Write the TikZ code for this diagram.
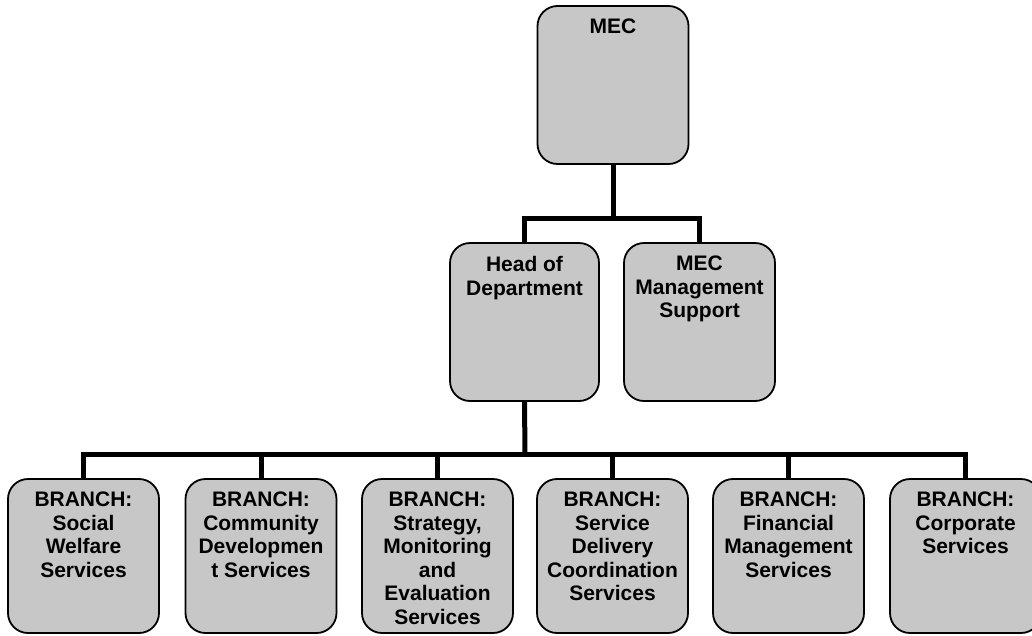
\documentclass[tikz,border=0pt]{standalone}
\usepackage{fontspec}
\setmainfont{Liberation Sans}
\begin{document}
\begin{tikzpicture}[x=1pt,y=-1pt,
  box/.style={draw=black, line width=1.8pt, rounded corners=20pt, fill=black!22,
    minimum width=151pt, minimum height=154pt, inner sep=0pt},
  tall/.style={minimum height=158pt},
  lbl/.style={anchor=north, inner sep=0pt, align=center,
    font=\bfseries\fontsize{21}{23.5}\selectfont},
  conn/.style={line width=5pt}]
\useasboundingbox (0,0) rectangle (1032,635);
% boxes
\node[box,tall] (mec) at (613,85) {};
\node[box,tall,minimum width=149pt] (hod) at (524.5,322) {};
\node[box,tall] (mms) at (699.5,322) {};
\node[box] (b1) at (83.5,556) {};
\node[box] (b2) at (261,556) {};
\node[box] (b3) at (437.5,556) {};
\node[box] (b4) at (612.5,556) {};
\node[box] (b5) at (788.5,556) {};
\node[box] (b6) at (965.5,556) {};
% labels
\node[lbl] (tmec) at ([yshift=-14pt]mec.north) {MEC};
\node[lbl] (thod) at ([yshift=-14pt]hod.north) {Head of\\Department};
\node[lbl] (tmms) at ([yshift=-14pt]mms.north) {MEC\\Management\\Support};
\node[lbl] (t1) at ([yshift=-14pt]b1.north) {BRANCH:\\Social\\Welfare\\Services};
\node[lbl] (t2) at ([yshift=-14pt]b2.north) {BRANCH:\\Community\\Developmen\\t Services};
\node[lbl] (t3) at ([yshift=-14pt]b3.north) {BRANCH:\\Strategy,\\Monitoring\\and\\Evaluation\\Services};
\node[lbl] (t4) at ([yshift=-14pt]b4.north) {BRANCH:\\Service\\Delivery\\Coordination\\Services};
\node[lbl] (t5) at ([yshift=-14pt]b5.north) {BRANCH:\\Financial\\Management\\Services};
\node[lbl] (t6) at ([yshift=-14pt]b6.north) {BRANCH:\\Corporate\\Services};
% connectors
\coordinate (top) at (613,218);
\coordinate (bus) at (525,454);
\draw[conn] (mec.south) -- (top);
\draw[conn] (hod.north) |- (top) -| (mms.north);
\draw[conn] (hod.south) -- (bus);
\foreach \b in {b1,b2,b3,b4,b5,b6} {
  \draw[conn] (bus) -| (\b.north);
}
\end{tikzpicture}
\end{document}
